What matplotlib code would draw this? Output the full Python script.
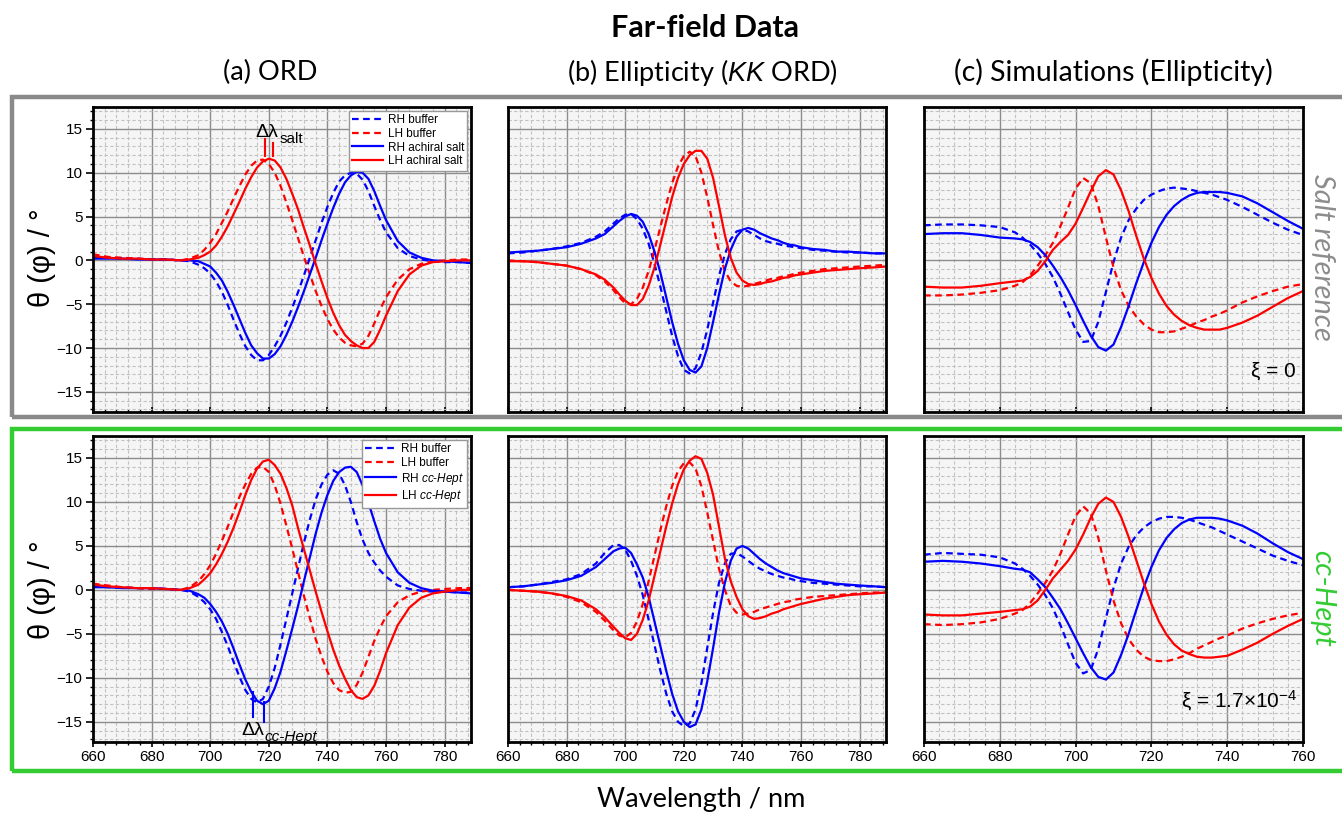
import numpy as np
import matplotlib
matplotlib.use('Agg')
import matplotlib.pyplot as plt
from matplotlib.ticker import MultipleLocator
from matplotlib.patches import Rectangle

plt.rcParams['font.family'] = ['Liberation Sans', 'DejaVu Sans']
plt.rcParams['mathtext.fontset'] = 'custom'
plt.rcParams['mathtext.rm'] = 'Liberation Sans'
plt.rcParams['mathtext.it'] = 'Liberation Sans:italic'

# ── Data ─────────────────────────────────────────────────────────────────────
lam_ab = ([660, 665, 670, 675, 680, 685, 690, 693]
          + list(range(696, 761, 2))
          + [764, 768, 772, 776, 780, 785, 789])
lam_c = ([660, 665, 670, 675, 680, 684]
         + list(range(686, 741, 2))
         + [744, 748, 752, 756, 760])

# (a) ORD – salt reference
a_salt_rh_buf = [0.3, 0.3, 0.2, 0.2, 0.1, 0.1, 0.0, -0.1,
                 -0.5, -0.9, -1.5, -2.4, -3.6, -5.1, -6.8, -8.4, -9.8, -10.8, -11.4, -11.4,
                 -10.8, -9.8, -8.6, -7.1, -5.4, -3.6, -1.7, 0.3, 2.3, 4.3, 6.1, 7.7,
                 9.0, 9.7, 10.0, 9.9, 9.2, 7.9, 6.2, 4.6, 3.2,
                 1.4, 0.5, 0.1, -0.1, -0.2, -0.2, -0.3]
a_salt_lh_buf = [0.7, 0.4, 0.3, 0.2, 0.1, 0.1, 0.0, 0.2,
                 0.6, 1.2, 2.0, 3.0, 4.3, 5.6, 7.1, 8.5, 9.8, 10.8, 11.4, 11.5,
                 11.0, 10.0, 8.5, 6.6, 4.6, 2.5, 0.4, -1.6, -3.5, -5.2, -6.7, -7.9,
                 -8.8, -9.4, -9.7, -9.8, -9.5, -8.6, -7.2, -5.6, -4.2,
                 -2.2, -1.0, -0.4, -0.1, 0.0, 0.1, 0.1]
a_salt_rh = [0.2, 0.2, 0.2, 0.1, 0.1, 0.1, 0.0, 0.0,
             -0.1, -0.4, -0.7, -1.4, -2.3, -3.6, -5.1, -6.7, -8.3, -9.7, -10.6, -11.2,
             -11.2, -10.7, -9.8, -8.5, -7.0, -5.3, -3.5, -1.6, 0.3, 2.3, 4.2, 6.0,
             7.6, 8.9, 9.7, 10.1, 10.0, 9.3, 7.9, 6.2, 4.6,
             2.2, 0.9, 0.3, 0.0, -0.1, -0.2, -0.3]
a_salt_lh = [0.5, 0.3, 0.2, 0.2, 0.1, 0.1, 0.0, 0.1,
             0.3, 0.6, 1.0, 1.7, 2.7, 3.9, 5.3, 6.7, 8.2, 9.5, 10.6, 11.3,
             11.6, 11.4, 10.6, 9.3, 7.6, 5.8, 3.7, 1.7, -0.4, -2.4, -4.3, -6.0,
             -7.4, -8.5, -9.2, -9.7, -10.0, -10.0, -9.3, -7.9, -6.3,
             -3.5, -1.6, -0.6, -0.2, -0.1, 0.0, 0.0]

# (a) ORD – cc-Hept
a_hept_rh_buf = [0.4, 0.3, 0.3, 0.2, 0.2, 0.1, 0.0, -0.2,
                 -0.8, -1.4, -2.2, -3.3, -4.8, -6.4, -8.2, -9.9, -11.4, -12.4, -12.8, -12.4,
                 -11.0, -8.9, -6.2, -3.3, -0.4, 2.5, 5.4, 8.0, 10.3, 12.0, 13.1, 13.6,
                 13.2, 11.9, 10.0, 7.7, 5.7, 4.2, 3.1, 2.2, 1.5,
                 0.5, 0.1, -0.1, -0.2, -0.2, -0.3, -0.3]
a_hept_lh_buf = [0.7, 0.5, 0.3, 0.2, 0.1, 0.1, 0.0, 0.3,
                 1.0, 1.8, 2.8, 4.1, 5.6, 7.2, 8.9, 10.6, 12.0, 13.2, 13.9, 14.0,
                 13.4, 11.9, 9.8, 7.3, 4.7, 2.0, -0.7, -3.2, -5.6, -7.6, -9.3, -10.6,
                 -11.4, -11.7, -11.6, -10.8, -9.4, -7.6, -5.8, -4.3, -3.0,
                 -1.4, -0.6, -0.2, 0.0, 0.1, 0.2, 0.2]
a_hept_rh = [0.3, 0.3, 0.2, 0.2, 0.2, 0.1, 0.0, -0.1,
             -0.5, -0.9, -1.6, -2.5, -3.6, -5.0, -6.7, -8.5, -10.2, -11.6, -12.6, -13.0,
             -12.6, -11.2, -9.3, -6.9, -4.4, -1.8, 1.0, 3.7, 6.4, 8.8, 10.8, 12.4,
             13.4, 13.9, 14.0, 13.4, 11.9, 9.9, 7.8, 5.8, 4.2,
             2.0, 0.8, 0.2, -0.1, -0.2, -0.3, -0.4]
a_hept_lh = [0.6, 0.4, 0.3, 0.2, 0.2, 0.1, 0.0, 0.2,
             0.6, 1.2, 1.9, 2.9, 4.1, 5.5, 7.1, 8.9, 10.8, 12.5, 13.8, 14.6,
             14.8, 14.2, 13.2, 11.6, 9.6, 7.0, 4.6, 2.2, -0.2, -2.5, -4.7, -6.8,
             -8.6, -10.1, -11.4, -12.2, -12.4, -12.0, -10.9, -9.2, -7.2,
             -4.0, -2.0, -0.9, -0.4, -0.2, 0.0, 0.0]

# (b) Ellipticity (KK ORD) – salt reference
b_salt_rh_buf = [0.8, 0.9, 1.1, 1.3, 1.6, 2.0, 2.7, 3.3,
                 4.2, 4.8, 5.2, 5.3, 4.7, 3.6, 1.9, -0.4, -3.0, -5.8, -8.6, -10.9,
                 -12.5, -12.9, -12.3, -10.5, -7.9, -4.8, -1.8, 0.7, 2.4, 3.3, 3.5, 3.3,
                 2.9, 2.5, 2.2, 2.0, 1.9, 1.7, 1.6, 1.5, 1.4,
                 1.2, 1.1, 1.0, 0.9, 0.9, 0.8, 0.8]
b_salt_lh_buf = [0.0, -0.1, -0.2, -0.4, -0.6, -1.0, -1.7, -2.4,
                 -3.4, -4.2, -4.9, -5.0, -4.4, -3.1, -1.2, 1.2, 3.8, 6.4, 8.8, 10.7,
                 11.9, 12.4, 11.9, 10.0, 7.2, 4.0, 1.0, -1.2, -2.4, -2.9, -3.0, -2.9,
                 -2.7, -2.5, -2.3, -2.1, -2.0, -1.8, -1.7, -1.5, -1.4,
                 -1.2, -1.0, -0.9, -0.8, -0.7, -0.6, -0.5]
b_salt_rh = [0.9, 1.0, 1.1, 1.3, 1.5, 1.9, 2.5, 3.0,
             3.9, 4.5, 5.0, 5.3, 5.1, 4.4, 3.0, 1.0, -1.4, -4.2, -7.0, -9.5,
             -11.4, -12.5, -12.8, -12.1, -10.0, -7.0, -3.9, -1.0, 1.2, 2.7, 3.5, 3.7,
             3.5, 3.1, 2.8, 2.5, 2.3, 2.0, 1.8, 1.7, 1.5,
             1.3, 1.2, 1.0, 1.0, 0.9, 0.8, 0.8]
b_salt_lh = [-0.1, -0.1, -0.2, -0.4, -0.6, -1.0, -1.6, -2.2,
             -3.1, -3.9, -4.6, -5.1, -5.1, -4.4, -2.9, -0.8, 1.8, 4.5, 7.2, 9.4,
             11.0, 12.0, 12.5, 12.5, 11.6, 9.4, 6.2, 2.9, 0.3, -1.4, -2.3, -2.7,
             -2.8, -2.7, -2.5, -2.4, -2.2, -2.0, -1.9, -1.7, -1.6,
             -1.4, -1.2, -1.1, -1.0, -0.9, -0.8, -0.7]

# (b) Ellipticity (KK ORD) – cc-Hept
b_hept_rh_buf = [0.3, 0.4, 0.6, 0.9, 1.2, 1.8, 3.0, 4.2,
                 5.1, 5.1, 4.6, 3.3, 1.6, -0.6, -3.4, -6.3, -9.2, -11.8, -13.8, -15.0,
                 -15.5, -15.2, -13.6, -10.6, -6.6, -2.6, 0.8, 3.0, 4.1, 4.2, 3.8, 3.3,
                 2.8, 2.4, 2.1, 1.8, 1.6, 1.4, 1.3, 1.1, 1.0,
                 0.8, 0.7, 0.6, 0.5, 0.4, 0.4, 0.3]
b_hept_lh_buf = [0.0, -0.1, -0.2, -0.4, -0.8, -1.4, -2.5, -3.5,
                 -4.6, -5.2, -5.4, -4.9, -3.6, -1.6, 1.0, 3.9, 6.8, 9.5, 11.8, 13.5,
                 14.4, 14.5, 13.8, 11.8, 8.8, 5.6, 2.4, 0.0, -1.8, -2.6, -2.8, -2.7,
                 -2.5, -2.2, -2.0, -1.8, -1.6, -1.4, -1.3, -1.1, -1.0,
                 -0.8, -0.7, -0.6, -0.5, -0.4, -0.3, -0.3]
b_hept_rh = [0.3, 0.4, 0.6, 0.8, 1.1, 1.6, 2.6, 3.5,
             4.4, 4.7, 4.8, 4.2, 2.9, 1.4, -0.8, -3.6, -6.4, -9.2, -11.8, -13.8,
             -15.0, -15.6, -15.3, -13.6, -10.4, -6.6, -2.6, 0.8, 3.3, 4.7, 5.0, 4.7,
             4.1, 3.5, 3.0, 2.6, 2.2, 1.9, 1.7, 1.5, 1.3,
             1.1, 0.9, 0.7, 0.6, 0.5, 0.4, 0.3]
b_hept_lh = [0.0, -0.1, -0.2, -0.4, -0.7, -1.2, -2.2, -3.1,
             -4.2, -4.9, -5.5, -5.7, -5.0, -3.4, -1.2, 1.6, 4.4, 7.2, 9.8, 12.0,
             13.7, 14.7, 15.2, 14.9, 13.3, 10.8, 7.2, 3.6, 1.0, -0.8, -2.2, -3.0,
             -3.3, -3.2, -3.0, -2.7, -2.5, -2.2, -2.0, -1.8, -1.6,
             -1.3, -1.0, -0.8, -0.6, -0.5, -0.4, -0.3]

# (c) Simulations – xi = 0
c_salt_rh_buf = [4.0, 4.1, 4.1, 4.0, 3.8, 3.2,
                 2.6, 1.8, 0.8, -0.4, -1.9, -3.8, -5.9, -7.9, -9.3, -9.2,
                 -7.0, -3.6, -0.2, 2.6, 4.6, 5.9, 6.9, 7.5, 7.9, 8.2,
                 8.3, 8.2, 8.1, 7.9, 7.7, 7.5, 7.2, 6.9,
                 6.1, 5.2, 4.3, 3.5, 2.9]
c_salt_lh_buf = [-4.0, -4.0, -3.9, -3.7, -3.4, -2.9,
                 -2.5, -1.7, -0.6, 0.6, 2.0, 3.9, 6.0, 8.2, 9.4, 8.8,
                 6.2, 2.6, -0.8, -3.4, -5.2, -6.4, -7.3, -7.9, -8.2, -8.2,
                 -8.1, -7.8, -7.5, -7.1, -6.8, -6.4, -6.1, -5.7,
                 -4.8, -4.1, -3.5, -3.0, -2.7]
c_salt_rh = [3.0, 3.1, 3.1, 2.9, 2.6, 2.5,
             2.4, 2.1, 1.5, 0.6, -0.6, -1.9, -3.4, -5.1, -6.9, -8.6,
             -9.9, -10.3, -9.6, -7.6, -5.2, -2.6, -0.2, 2.0, 3.8, 5.2,
             6.2, 6.9, 7.4, 7.7, 7.8, 7.8, 7.8, 7.7,
             7.3, 6.5, 5.5, 4.5, 3.6]
c_salt_lh = [-3.0, -3.1, -3.1, -2.9, -2.6, -2.4,
             -2.3, -1.9, -1.2, -0.1, 1.2, 2.1, 2.9, 4.2, 6.0, 7.9,
             9.6, 10.3, 9.8, 8.0, 5.6, 2.8, 0.2, -2.0, -3.8, -5.2,
             -6.2, -6.9, -7.4, -7.7, -7.9, -7.9, -7.9, -7.7,
             -7.1, -6.3, -5.3, -4.3, -3.5]

# (c) Simulations – xi = 1.7e-4
c_hept_rh_buf = [4.0, 4.2, 4.1, 4.0, 3.7, 3.0,
                 2.4, 1.6, 0.6, -0.6, -2.1, -4.0, -6.2, -8.3, -9.5, -9.1,
                 -6.7, -3.2, 0.2, 3.0, 4.9, 6.2, 7.1, 7.7, 8.1, 8.3,
                 8.3, 8.2, 8.0, 7.7, 7.4, 7.1, 6.7, 6.3,
                 5.5, 4.7, 3.9, 3.3, 2.8]
c_hept_lh_buf = [-3.9, -4.0, -3.9, -3.7, -3.3, -2.7,
                 -2.3, -1.5, -0.4, 0.8, 2.2, 4.1, 6.3, 8.4, 9.5, 8.7,
                 5.9, 2.2, -1.2, -3.8, -5.6, -6.8, -7.6, -8.0, -8.1, -8.1,
                 -7.9, -7.6, -7.2, -6.7, -6.3, -5.9, -5.5, -5.2,
                 -4.4, -3.8, -3.3, -2.9, -2.6]
c_hept_rh = [3.2, 3.3, 3.2, 3.0, 2.7, 2.4,
             2.3, 2.0, 1.2, 0.3, -0.9, -2.2, -3.8, -5.5, -7.2, -8.8,
             -9.9, -10.2, -9.4, -7.4, -5.0, -2.3, 0.3, 2.6, 4.5, 5.9,
             6.9, 7.6, 8.0, 8.2, 8.2, 8.2, 8.1, 7.9,
             7.3, 6.4, 5.3, 4.3, 3.5]
c_hept_lh = [-2.8, -2.9, -2.9, -2.7, -2.5, -2.3,
             -2.2, -1.9, -1.2, 0.0, 1.3, 2.3, 3.3, 4.6, 6.3, 8.2,
             9.8, 10.5, 10.0, 8.3, 6.0, 3.4, 0.8, -1.6, -3.6, -5.1,
             -6.2, -6.9, -7.3, -7.6, -7.7, -7.7, -7.6, -7.5,
             -6.8, -6.0, -5.0, -4.1, -3.3]

salt_labels = ['RH buffer', 'LH buffer', 'RH achiral salt', 'LH achiral salt']
hept_labels = ['RH buffer', 'LH buffer', r'RH $\mathit{cc}$-$\mathit{Hept}$', r'LH $\mathit{cc}$-$\mathit{Hept}$']

BLUE, RED = '#0000ff', '#ff0000'

# ── Figure ────────────────────────────────────────────────────────────────────
W, H = 1342, 817
fig = plt.figure(figsize=(W / 100, H / 100), dpi=100)

def px_axes(x0, y0, x1, y1):
    return fig.add_axes([x0 / W, 1 - y1 / H, (x1 - x0) / W, (y1 - y0) / H])

cols = [(93, 471), (508, 886), (924, 1303)]
rows = [(107, 412), (436, 742)]

panels = [
    [(lam_ab, a_salt_rh_buf, a_salt_lh_buf, a_salt_rh, a_salt_lh),
     (lam_ab, b_salt_rh_buf, b_salt_lh_buf, b_salt_rh, b_salt_lh),
     (lam_c, c_salt_rh_buf, c_salt_lh_buf, c_salt_rh, c_salt_lh)],
    [(lam_ab, a_hept_rh_buf, a_hept_lh_buf, a_hept_rh, a_hept_lh),
     (lam_ab, b_hept_rh_buf, b_hept_lh_buf, b_hept_rh, b_hept_lh),
     (lam_c, c_hept_rh_buf, c_hept_lh_buf, c_hept_rh, c_hept_lh)],
]

# Row frames (grey = salt, green = cc-Hept)
fig.patches.append(Rectangle((12 / W, 1 - 417 / H), 1340 / W, 320 / H, transform=fig.transFigure,
                             fill=False, edgecolor='#8a8a8a', linewidth=3.2, zorder=0))
fig.patches.append(Rectangle((12 / W, 1 - 771 / H), 1340 / W, 342 / H, transform=fig.transFigure,
                             fill=False, edgecolor='#33cc33', linewidth=3.2, zorder=0))

line_kw = dict(lw=1.6, solid_joinstyle='round', dash_joinstyle='round')
axes = {}
for r, (y0, y1) in enumerate(rows):
    for c, (x0, x1) in enumerate(cols):
        ax = px_axes(x0, y0, x1, y1)
        axes[(r, c)] = ax
        lam, rh_b, lh_b, rh, lh = panels[r][c]
        labels = salt_labels if r == 0 else hept_labels
        ax.plot(lam, rh_b, color=BLUE, ls=(0, (3, 2)), label=labels[0], **line_kw)
        ax.plot(lam, lh_b, color=RED, ls=(0, (3, 2)), label=labels[1], **line_kw)
        ax.plot(lam, rh, color=BLUE, label=labels[2], **line_kw)
        ax.plot(lam, lh, color=RED, label=labels[3], **line_kw)

        ax.set_facecolor('#f5f5f5')
        ax.set_xlim(660, 760 if c == 2 else 789)
        ax.set_ylim(-17.3, 17.5)
        ax.xaxis.set_major_locator(MultipleLocator(20))
        ax.xaxis.set_minor_locator(MultipleLocator(4))
        ax.yaxis.set_major_locator(MultipleLocator(5))
        ax.yaxis.set_minor_locator(MultipleLocator(1))
        ax.set_axisbelow(True)
        ax.grid(True, which='major', color='#8c8c8c', lw=1.0)
        ax.grid(True, which='minor', color='#c2c2c2', lw=0.8, ls=(0, (3, 2)))
        for s in ax.spines.values():
            s.set_linewidth(2.0)
            s.set_color('black')
        ax.tick_params(labelsize=11, width=1.2)
        ax.tick_params(axis='x', which='major', length=3.5, pad=2)
        ax.tick_params(axis='x', which='minor', length=2, width=1.0)
        ax.tick_params(axis='y', which='major', length=5, pad=2.5)
        ax.tick_params(axis='y', which='minor', length=2.5, width=1.0)
        ax.tick_params(axis='x', which='both', direction='in' if r == 0 else 'out',
                       labelbottom=(r == 1))
        if c == 0:
            ax.tick_params(axis='y', which='both', direction='out')
        else:
            ax.tick_params(axis='y', left=False, labelleft=False, which='both')

        if c == 0:
            leg = ax.legend(loc='upper right', fontsize=8.5, frameon=True, fancybox=False,
                            framealpha=1, edgecolor='#999999', handlelength=2.6,
                            labelspacing=0.15, borderpad=0.3, handletextpad=0.4,
                            borderaxespad=0.3)
            leg.get_frame().set_linewidth(1.0)

# Δλ markers
ax = axes[(0, 0)]
ax.plot([718.7, 718.7], [11.9, 13.8], color=RED, lw=1.5)
ax.plot([721.3, 721.3], [11.9, 13.4], color=RED, lw=1.5)
ax.text(715.5, 13.6, 'Δλ', fontsize=14, va='bottom')
ax.text(723.6, 13.1, 'salt', fontsize=11, va='bottom')

ax = axes[(1, 0)]
ax.plot([714.6, 714.6], [-11.6, -14.4], color=BLUE, lw=1.5)
ax.plot([718.4, 718.4], [-12.8, -15.0], color=BLUE, lw=1.5)
ax.text(710.8, -17.0, 'Δλ', fontsize=14, va='bottom')
ax.text(718.6, -17.5, 'cc-Hept', fontsize=11, style='italic', va='bottom')

axes[(0, 2)].text(758, -12.6, 'ξ = 0', fontsize=15, ha='right', va='center')
axes[(1, 2)].text(758.5, -12.6, r'ξ = 1.7×10$^{-4}$', fontsize=15, ha='right', va='center')

# Titles and labels
title_font = ['Lato', 'DejaVu Sans']
fig.text(705 / W, 1 - 28 / H, 'Far-field Data', fontsize=22, fontweight='bold',
         family=title_font, ha='center', va='center')
fig.text(270 / W, 1 - 72 / H, '(a) ORD', fontsize=19.5, family=title_font, ha='center', va='center')
fig.text(702 / W, 1 - 72 / H, r'(b) Ellipticity ($\mathit{KK}$ ORD)', fontsize=19.5,
         family=title_font, ha='center', va='center')
fig.text(1113 / W, 1 - 72 / H, '(c) Simulations (Ellipticity)', fontsize=20.5,
         family=title_font, ha='center', va='center')
fig.text(701 / W, 1 - 800 / H, 'Wavelength / nm', fontsize=19.5, family=title_font,
         ha='center', va='center')
for yc in (258, 590):
    fig.text(42 / W, 1 - yc / H, 'θ (φ) / °', fontsize=21, rotation=90, ha='center', va='center')

fig.text(1322 / W, 1 - 257 / H, 'Salt reference', fontsize=21, style='italic', color='#8c8c8c',
         family=title_font, rotation=-90, ha='center', va='center')
fig.text(1322 / W, 1 - 598 / H, 'cc-Hept', fontsize=21, style='italic', color='#33cc33',
         family=title_font, rotation=-90, ha='center', va='center')

fig.savefig('out.png', dpi=100)
